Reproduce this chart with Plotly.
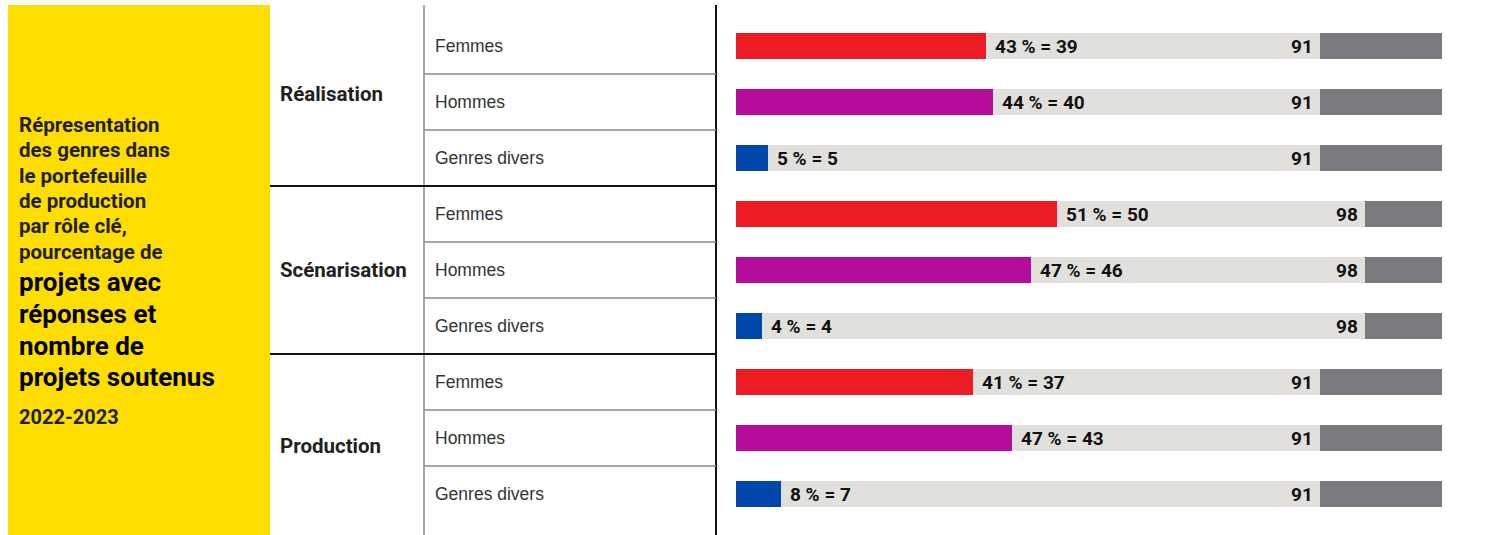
import plotly.graph_objects as go

# ---- data -----------------------------------------------------------------
roles = ["Réalisation", "Scénarisation", "Production"]
genders = ["Femmes", "Hommes", "Genres divers"]
counts = [39, 40, 5, 50, 46, 4, 37, 43, 7]
percents = [43, 44, 5, 51, 47, 4, 41, 47, 8]
totals = [91, 91, 91, 98, 98, 98, 91, 91, 91]
axis_max = 110

title_small = ["Répresentation", "des genres dans", "le portefeuille",
               "de production", "par rôle clé,", "pourcentage de"]
title_big = ["projets avec", "réponses et", "nombre de", "projets soutenus"]
title_year = "2022-2023"

# ---- style ----------------------------------------------------------------
W, H = 1501, 535
gender_colors = {"Femmes": "#ED1C24", "Hommes": "#B50C9A", "Genres divers": "#0047AB"}
light_grey = "#E1E0DD"
dark_grey = "#797B7F"
yellow = "#FEDD00"
cond = "Roboto, Arial, sans-serif"
reg = "Liberation Sans, Arial, sans-serif"

row_top_px, row_pitch_px = 46, 56
bar_left_px, bar_right_px = 736, 1442


def px_to_paper_x(px):
    return px / W


def px_to_paper_y(py):
    return 1 - py / H


n = len(roles) * len(genders)
rows = list(range(n))
gender_of_row = [genders[i % 3] for i in rows]

fig = go.Figure()

# remaining part up to the axis end (dark)
fig.add_trace(go.Bar(
    y=rows, x=[axis_max - t for t in totals], base=totals, orientation="h",
    marker=dict(color=dark_grey, line=dict(width=0)), width=0.48,
    hoverinfo="skip", showlegend=False))
# total of supported projects (light)
fig.add_trace(go.Bar(
    y=rows, x=totals, base=[0] * n, orientation="h",
    marker=dict(color=light_grey, line=dict(width=0)), width=0.48,
    hoverinfo="skip", showlegend=False))
# projects per gender
fig.add_trace(go.Bar(
    y=rows, x=counts, base=[0] * n, orientation="h",
    marker=dict(color=[gender_colors[g] for g in gender_of_row], line=dict(width=0)),
    width=0.48, hoverinfo="skip", showlegend=False))

annotations = []
for i in rows:
    annotations.append(dict(
        x=counts[i], y=i, xref="x", yref="y", xanchor="left", yanchor="middle",
        xshift=7, showarrow=False, text=f"<b>{percents[i]} % = {counts[i]}</b>",
        font=dict(family=cond, size=19, color="#111111")))
    annotations.append(dict(
        x=totals[i], y=i, xref="x", yref="y", xanchor="right", yanchor="middle",
        xshift=-5, showarrow=False, text=f"<b>{totals[i]}</b>",
        font=dict(family=cond, size=19, color="#111111")))
    annotations.append(dict(
        x=px_to_paper_x(433), y=i, xref="paper", yref="y", xanchor="left",
        yanchor="middle", showarrow=False, text=gender_of_row[i],
        font=dict(family=reg, size=17.5, color="#333333")))

role_label_rows = [0.85, 4, 7.15]
for r, role in enumerate(roles):
    annotations.append(dict(
        x=px_to_paper_x(278), y=role_label_rows[r], xref="paper", yref="y",
        xanchor="left", yanchor="middle", showarrow=False, text=f"<b>{role}</b>",
        font=dict(family=cond, size=20.5, color="#231F20")))

# headline block in the yellow panel
for k, line in enumerate(title_small):
    annotations.append(dict(
        x=px_to_paper_x(17), y=px_to_paper_y(125 + 25.3 * k), xref="paper",
        yref="paper", xanchor="left", yanchor="middle", showarrow=False,
        text=f"<b>{line}</b>", font=dict(family=cond, size=20.5, color="#231F20")))
for k, line in enumerate(title_big):
    annotations.append(dict(
        x=px_to_paper_x(17), y=px_to_paper_y(282 + 31.8 * k), xref="paper",
        yref="paper", xanchor="left", yanchor="middle", showarrow=False,
        text=f"<b>{line}</b>", font=dict(family=cond, size=26, color="#000000")))
annotations.append(dict(
    x=px_to_paper_x(17), y=px_to_paper_y(417), xref="paper", yref="paper",
    xanchor="left", yanchor="middle", showarrow=False, text=f"<b>{title_year}</b>",
    font=dict(family=cond, size=20, color="#231F20")))

shapes = [
    # yellow panel
    dict(type="rect", xref="paper", yref="paper", x0=px_to_paper_x(8),
         x1=px_to_paper_x(270), y0=0, y1=px_to_paper_y(5),
         fillcolor=yellow, line=dict(width=0), layer="below"),
    # column rules
    dict(type="line", xref="paper", yref="paper", x0=px_to_paper_x(424),
         x1=px_to_paper_x(424), y0=0, y1=px_to_paper_y(5),
         line=dict(color="#8A8A8A", width=1.5)),
    dict(type="line", xref="paper", yref="paper", x0=px_to_paper_x(716),
         x1=px_to_paper_x(716), y0=0, y1=px_to_paper_y(5),
         line=dict(color="#111111", width=2)),
]
for i in range(n - 1):
    boundary = i + 0.5
    if (i + 1) % 3 == 0:
        shapes.append(dict(type="line", xref="paper", yref="y",
                           x0=px_to_paper_x(270), x1=px_to_paper_x(716),
                           y0=boundary, y1=boundary,
                           line=dict(color="#111111", width=2)))
    else:
        shapes.append(dict(type="line", xref="paper", yref="y",
                           x0=px_to_paper_x(424), x1=px_to_paper_x(716),
                           y0=boundary, y1=boundary,
                           line=dict(color="#8A8A8A", width=1.3)))

y_lo = (0 - row_top_px) / row_pitch_px
y_hi = (H - row_top_px) / row_pitch_px

fig.update_layout(
    width=W, height=H, margin=dict(l=0, r=0, t=0, b=0),
    paper_bgcolor="white", plot_bgcolor="white",
    barmode="overlay", bargap=0,
    xaxis=dict(domain=[px_to_paper_x(bar_left_px), px_to_paper_x(bar_right_px)],
               range=[0, axis_max], visible=False, fixedrange=True),
    yaxis=dict(domain=[0, 1], range=[y_hi, y_lo], visible=False, fixedrange=True),
    annotations=annotations, shapes=shapes, showlegend=False,
)

fig.write_html("out.html", config={"displayModeBar": False})
